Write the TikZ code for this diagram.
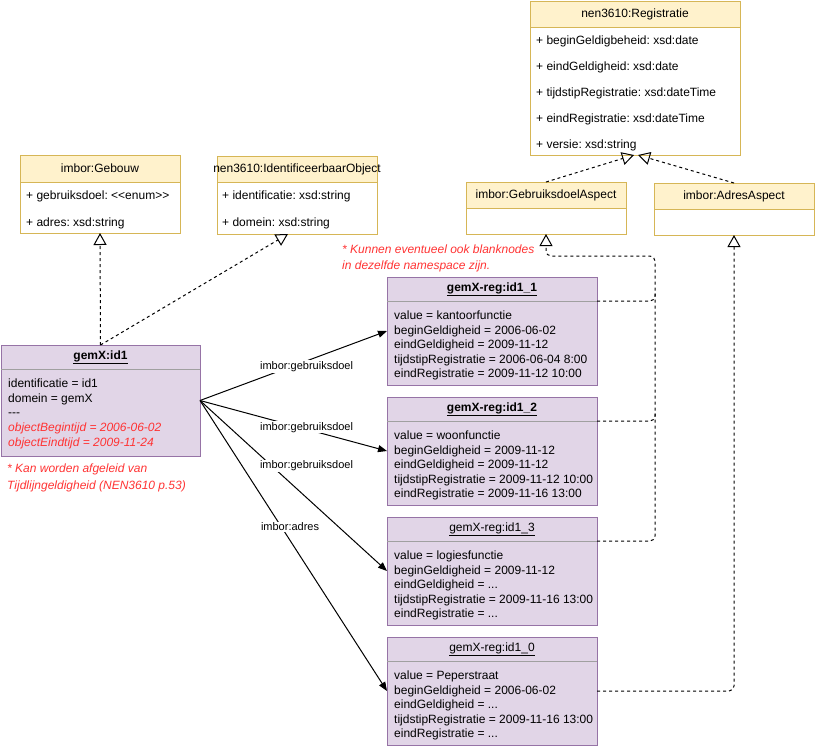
\documentclass[tikz,border=0pt]{standalone}
\usepackage{fontspec}
\setmainfont{Liberation Sans}
\usepackage{tikz}
\usetikzlibrary{arrows.meta, positioning}
\frenchspacing

\definecolor{clsfill}{HTML}{FFF2CC}
\definecolor{clsline}{HTML}{D6B656}
\definecolor{objfill}{HTML}{E1D5E7}
\definecolor{objline}{HTML}{9673A6}
\definecolor{sepline}{HTML}{A0A0A0}
\definecolor{notered}{HTML}{FF3333}

\begin{document}
\begin{tikzpicture}[
  x=1pt, y=-1pt,
  every node/.style={font=\fontsize{12}{14.4}\selectfont},
  clshead/.style={rectangle, draw=clsline, fill=clsfill, line width=1pt, outer sep=0pt, inner sep=0pt, minimum width=160pt, minimum height=26pt},
  clsbody/.style={rectangle, draw=clsline, fill=white, line width=1pt, outer sep=0pt, inner sep=0pt, minimum width=160pt},
  attr/.style={anchor=north west, inner sep=0pt, align=left, font=\fontsize{12}{26}\selectfont},
  objbox/.style={rectangle, draw=objline, fill=objfill, line width=1pt, outer sep=0pt, inner sep=0pt, minimum width=210pt, minimum height=108pt},
  objhead/.style={rectangle, outer sep=0pt, inner sep=0pt, minimum width=210pt, minimum height=24pt, font=\fontsize{12}{14.4}\selectfont},
  objtext/.style={anchor=north west, inner sep=0pt, align=left, font=\fontsize{12}{14.6}\selectfont},
  sep/.style={draw=sepline, line width=1pt},
  note/.style={anchor=north west, inner sep=0pt, align=left, text=notered, font=\fontsize{12}{16}\selectfont\itshape},
  realize/.style={line width=1pt, dash pattern=on 3pt off 3pt, -{Triangle[open, length=12pt, width=13pt]}},
  assoc/.style={line width=1pt, -{Triangle[length=9pt, width=7pt]}},
  lbl/.style={fill=white, inner sep=1pt, font=\fontsize{11}{13.2}\selectfont},
]
  \useasboundingbox (0,0) rectangle (815,748);

  % Registratie
  \node[clshead, minimum width=210pt] (reg) at (635,14) {nen3610:Registratie};
  \node[clsbody, minimum width=210pt, minimum height=128pt, below=0pt of reg] (regB) {};
  \node[attr] (regA) at (536,35.6) {+ beginGeldigbeheid: xsd:date\\+ eindGeldigheid: xsd:date\\+ tijdstipRegistratie: xsd:dateTime\\+ eindRegistratie: xsd:dateTime\\+ versie: xsd:string};

  % Aspects
  \node[clshead] (gda) at (546,195) {imbor:GebruiksdoelAspect};
  \node[clsbody, minimum height=26pt, below=0pt of gda] (gdaB) {};
  \node[clshead] (ada) at (734,196) {imbor:AdresAspect};
  \node[clsbody, minimum height=26pt, below=0pt of ada] (adaB) {};

  % Gebouw
  \node[clshead, minimum height=27pt] (gebouw) at (100,168.5) {imbor:Gebouw};
  \node[clsbody, minimum height=51pt, below=0pt of gebouw] (gebouwB) {};
  \node[attr, font=\fontsize{12}{27}\selectfont] (gebouwA) at (26,190.6) {+ gebruiksdoel: \mbox{<}\mbox{<}enum\mbox{>}\mbox{>}\\+ adres: xsd:string};

  % IdentificeerbaarObject
  \node[clshead] (idobj) at (297,169) {\makebox[0pt]{nen3610:IdentificeerbaarObject}};
  \node[clsbody, minimum height=52pt, below=0pt of idobj] (idobjB) {};
  \node[attr, font=\fontsize{12}{27}\selectfont] (idobjA) at (222,190.6) {+ identificatie: xsd:string\\+ domein: xsd:string};

  % gemX:id1
  \node[objbox, minimum width=199pt, minimum height=111pt] (gx) at (100.5,400.5) {};
  \node[objhead, anchor=north, minimum width=199pt] (gxh) at (gx.north) {\textbf{\underline{gemX:id1}}};
  \draw[sep] (gxh.south west) -- (gxh.south east);
  \node[objtext] (gxt) at (8,378.7) {identificatie = id1\\domein = gemX\\\mbox{-}\mbox{-}\mbox{-}\\\textcolor{notered}{\itshape objectBegintijd = 2006-06-02}\\\textcolor{notered}{\itshape objectEindtijd = 2009-11-24}};
  \node[note, font=\fontsize{12}{16.5}\selectfont\itshape] (noteB) at (7,463.7) {* Kan worden afgeleid van\\Tijdlijngeldigheid (NEN3610 p.53)};

  % Registraties
  \foreach \n/\y/\f in {1/331/\bfseries, 2/451/\bfseries, 3/571/\mdseries, 0/691/\mdseries} {
    \node[objbox] (r\n) at (492,\y) {};
    \node[objhead, anchor=north] (rh\n) at (r\n.north) {\f\underline{gemX-reg:id1\_\n}};
    \draw[sep] (rh\n.south west) -- (rh\n.south east);
  }
  \node[objtext] (rt1) at (394,310.5) {value = kantoorfunctie\\beginGeldigheid = 2006-06-02\\eindGeldigheid = 2009-11-12\\tijdstipRegistratie = 2006-06-04 8:00\\eindRegistratie = 2009-11-12 10:00};
  \node[objtext] (rt2) at (394,430.5) {value = woonfunctie\\beginGeldigheid = 2009-11-12\\eindGeldigheid = 2009-11-12\\tijdstipRegistratie = 2009-11-12 10:00\\eindRegistratie = 2009-11-16 13:00};
  \node[objtext] (rt3) at (394,550.5) {value = logiesfunctie\\beginGeldigheid = 2009-11-12\\eindGeldigheid = ...\\tijdstipRegistratie = 2009-11-16 13:00\\eindRegistratie = ...};
  \node[objtext] (rt0) at (394,670.5) {value = Peperstraat\\beginGeldigheid = 2006-06-02\\eindGeldigheid = ...\\tijdstipRegistratie = 2009-11-16 13:00\\eindRegistratie = ...};

  \node[note] (noteA) at (342,244.5) {* Kunnen eventueel ook blanknodes\\in dezelfde namespace zijn.};

  % Generalisaties
  \draw[realize] (gx.north) -- (gebouwB.south);
  \draw[realize] (gx.north) -- ([xshift=-9pt]idobjB.south);
  \draw[realize] (gda.north) -- ([xshift=-1pt]regB.south);
  \draw[realize] (ada.north) -- ([xshift=3pt]regB.south);

  % Registraties naar aspecten
  \coordinate (bus) at (655,256);
  \coordinate (j1) at (655,292);
  \coordinate (j2) at (655,412);
  \draw[realize, -, rounded corners=5pt] (rh1.south east) -| (j1);
  \draw[realize, -, rounded corners=5pt] (rh2.south east) -| (j2);
  \draw[realize, rounded corners=5pt] (rh3.south east) -| (bus) -| (gdaB.south);
  \draw[realize, rounded corners=5pt] (r0.east) -| (adaB.south);

  % Associaties
  \draw[assoc] (gx.east) -- node[lbl, pos=0.57, yshift=-5.5pt] (l1) {imbor:gebruiksdoel} (r1.west);
  \draw[assoc] (gx.east) -- node[lbl, pos=0.57, yshift=2pt] (l2) {imbor:gebruiksdoel} (r2.west);
  \draw[assoc] (gx.east) -- node[lbl, pos=0.385, xshift=34.5pt] (l3) {imbor:gebruiksdoel} (r3.west);
  \draw[assoc] (gx.east) -- node[lbl, pos=0.435, xshift=8.7pt] (l4) {imbor:adres} (r0.west);
\end{tikzpicture}
\end{document}
